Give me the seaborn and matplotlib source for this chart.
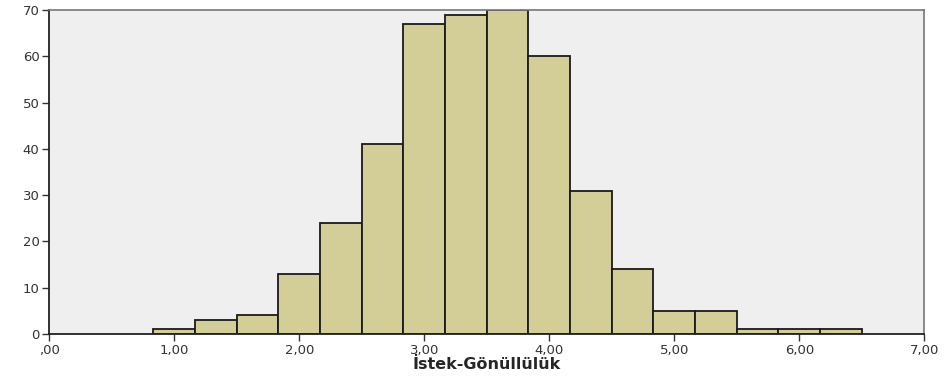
import matplotlib
matplotlib.use("Agg")
import matplotlib.pyplot as plt
import seaborn as sns
import numpy as np

# bin edges and counts (bin width 1/3)
bin_edges = [0.833, 1.167, 1.5, 1.833, 2.167, 2.5, 2.833, 3.167, 3.5,
             3.833, 4.167, 4.5, 4.833, 5.167, 5.5, 5.833, 6.167, 6.5]
counts = [1, 3, 4, 13, 24, 41, 67, 69, 70, 60, 31, 14, 5, 5, 1, 1, 1]
x_ticks = [0, 1, 2, 3, 4, 5, 6, 7]
x_tick_labels = [",00", "1,00", "2,00", "3,00", "4,00", "5,00", "6,00", "7,00"]
y_ticks = [0, 10, 20, 30, 40, 50, 60, 70]

centers = [(a + b) / 2 for a, b in zip(bin_edges[:-1], bin_edges[1:])]

sns.set_style("ticks")
plt.rcParams['font.family'] = ['DejaVu Sans']

fig = plt.figure(figsize=(9.48, 3.76), dpi=100)
ax = fig.add_axes([0.052, 0.112, 0.923, 0.861])
ax.set_facecolor("#EFEFEF")

sns.histplot(x=centers, weights=counts, bins=bin_edges, ax=ax,
             color="#D3CE98", alpha=1, edgecolor="#1a1a1a", linewidth=1.3)

ax.set_xlim(0, 7)
ax.set_ylim(0, 70)
ax.set_xticks(x_ticks)
ax.set_xticklabels(x_tick_labels)
ax.set_yticks(y_ticks)
ax.tick_params(axis="both", labelsize=9.5, colors="#333333", length=5, width=1, pad=2)
ax.set_xlabel("İstek-Gönüllülük", fontsize=11.5, fontweight="bold", labelpad=0)
ax.set_ylabel("")

for side in ["left", "bottom"]:
    ax.spines[side].set_color("#222222")
    ax.spines[side].set_linewidth(1.3)
for side in ["top", "right"]:
    ax.spines[side].set_visible(True)
    ax.spines[side].set_color("#777777")
    ax.spines[side].set_linewidth(1.2)

fig.savefig("out.png", dpi=100)
